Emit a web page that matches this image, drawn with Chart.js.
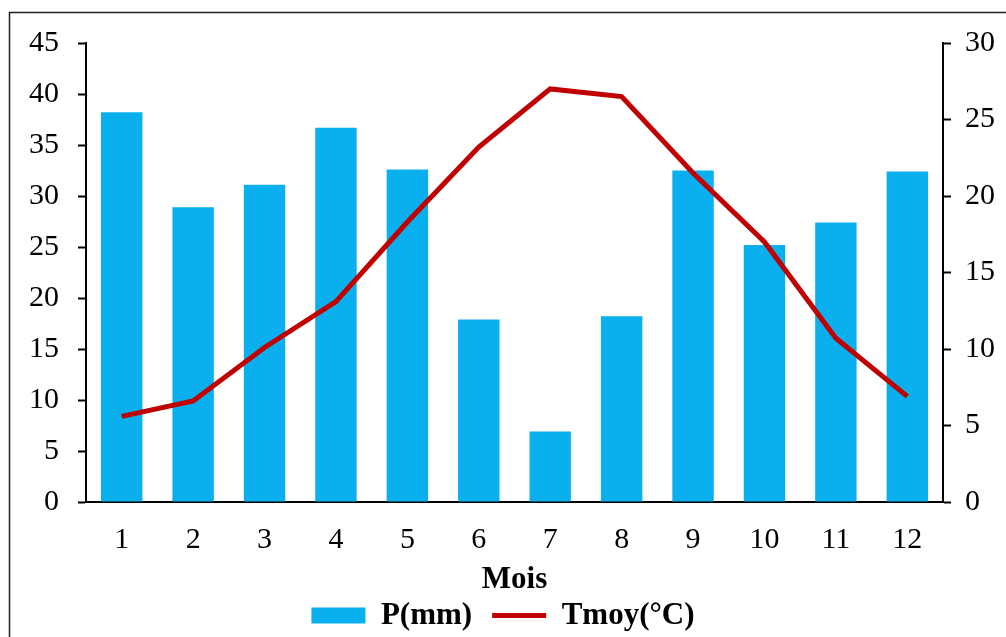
<!DOCTYPE html>
<html>
<head>
<meta charset="utf-8">
<script src="https://cdn.jsdelivr.net/npm/chart.js@4"></script>
<style>
  html, body { margin: 0; padding: 0; background: #fff; }
  #wrap { width: 1006px; height: 637px; }
</style>
</head>
<body>
<div id="wrap"><canvas id="chart"></canvas></div>
<script>
var months = ["1", "2", "3", "4", "5", "6", "7", "8", "9", "10", "11", "12"];
var precip = [38.2, 28.9, 31.1, 36.7, 32.6, 17.9, 6.9, 18.2, 32.5, 25.2, 27.4, 32.4];
var tmoy = [5.6, 6.6, 10.1, 13.1, 18.3, 23.2, 27.0, 26.5, 21.5, 17.0, 10.7, 6.9];

var serif = "'Liberation Serif', 'Times New Roman', serif";

// outer frame like the excel chart border
const framePlugin = {
  id: "frame",
  afterDraw(chart) {
    const ctx = chart.ctx;
    ctx.save();
    ctx.strokeStyle = "#222";
    ctx.lineWidth = 1.5;
    ctx.beginPath();
    ctx.moveTo(9.5, 640);
    ctx.lineTo(9.5, 12.5);
    ctx.lineTo(1010, 12.5);
    ctx.stroke();
    ctx.restore();
  }
};

const ctx = document.getElementById("chart");
new Chart(ctx, {
  type: "bar",
  data: {
    labels: months,
    datasets: [
      {
        label: "P(mm)",
        data: precip,
        backgroundColor: "#0AB0EE",
        yAxisID: "y",
        barPercentage: 0.58,
        categoryPercentage: 1,
        pointStyle: "rect",
        order: 2
      },
      {
        type: "line",
        label: "Tmoy(°C)",
        data: tmoy,
        borderColor: "#C00000",
        backgroundColor: "#C00000",
        borderWidth: 5,
        pointRadius: 0,
        pointStyle: "line",
        tension: 0,
        yAxisID: "y1",
        order: 1
      }
    ]
  },
  options: {
    responsive: true,
    maintainAspectRatio: false,
    animation: false,
    layout: { padding: { top: 43, right: 0, bottom: 0, left: 0 } },
    plugins: {
      tooltip: { enabled: false },
      legend: {
        position: "bottom",
        reverse: true,
        // padding is also the gap between the two items, so clamp the box height
        maxHeight: 57,
        labels: {
          usePointStyle: true,
          pointStyleWidth: 54,
          boxHeight: 16,
          padding: 20,
          color: "#000",
          font: { family: serif, size: 31, weight: "bold" }
        }
      }
    },
    scales: {
      x: {
        grid: { display: false, drawTicks: false },
        border: { color: "#000", width: 2 },
        ticks: { color: "#000", padding: 20, font: { family: serif, size: 30 } },
        title: {
          display: true,
          text: "Mois",
          color: "#000",
          padding: { top: 0, bottom: -19 },
          font: { family: serif, size: 31, weight: "bold" }
        },
        afterFit(scale) { scale.height = 78; }
      },
      y: {
        position: "left",
        min: 0,
        max: 45,
        ticks: { stepSize: 5, color: "#000", padding: 19, font: { family: serif, size: 30 } },
        grid: { drawOnChartArea: false, color: "#000", tickLength: 8, tickWidth: 2 },
        border: { color: "#000", width: 2 },
        afterFit(scale) { scale.width = 86; }
      },
      y1: {
        position: "right",
        min: 0,
        max: 30,
        ticks: { stepSize: 5, color: "#000", padding: 14, font: { family: serif, size: 30 } },
        grid: { drawOnChartArea: false, color: "#000", tickLength: 8, tickWidth: 2 },
        border: { color: "#000", width: 2 },
        afterFit(scale) { scale.width = 63; }
      }
    }
  },
  plugins: [framePlugin]
});
</script>
</body>
</html>
